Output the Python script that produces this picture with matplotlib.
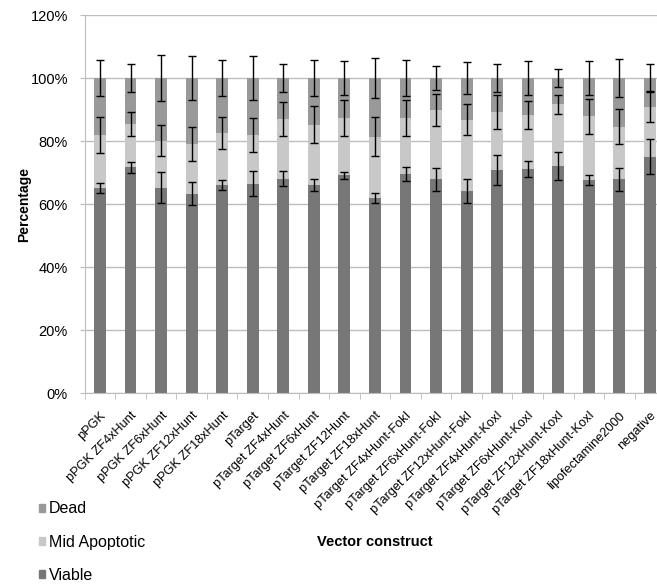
import numpy as np
import matplotlib.pyplot as plt
from matplotlib.patches import Patch

plt.rcParams['font.family'] = ['Liberation Sans', 'DejaVu Sans']

constructs = ["pPGK", "pPGK ZF4xHunt", "pPGK ZF6xHunt", "pPGK ZF12xHunt", "pPGK ZF18xHunt",
              "pTarget", "pTarget ZF4xHunt", "pTarget ZF6xHunt", "pTarget ZF12Hunt",
              "pTarget ZF18xHunt", "pTarget ZF4xHunt-FokI", "pTarget ZF6xHunt-FokI",
              "pTarget ZF12xHunt-FokI", "pTarget ZF4xHunt-KoxI", "pTarget ZF6xHunt-KoxI",
              "pTarget ZF12xHunt-KoxI", "pTarget ZF18xHunt-KoxI", "lipofectamine2000", "negative"]

# percentages of cells in each state
viable = [65.2, 71.6, 65.2, 63.3, 65.9, 66.5, 68.1, 66.1, 69.1, 62.0,
          69.5, 67.8, 64.1, 70.7, 71.1, 72.1, 67.6, 67.8, 75.0]
mid_apoptotic = [16.7, 13.8, 14.9, 15.7, 16.7, 15.4, 18.8, 19.1, 18.2, 19.4,
                 17.8, 22.0, 22.7, 18.5, 17.2, 19.6, 20.2, 16.7, 15.9]
dead = [18.1, 14.6, 19.9, 21.0, 17.4, 18.1, 13.1, 14.8, 12.7, 18.6,
        12.7, 10.2, 13.2, 10.8, 11.7, 8.3, 12.2, 15.5, 9.1]

viable_err = [1.6, 1.7, 5.0, 3.6, 1.6, 4.0, 2.4, 1.9, 1.1, 1.6,
              2.3, 3.7, 3.8, 4.8, 2.5, 4.5, 1.6, 3.6, 5.6]
mid_err = [5.7, 3.9, 5.0, 5.3, 5.0, 5.3, 5.4, 5.9, 5.8, 6.1,
           5.8, 5.0, 5.0, 5.4, 4.4, 3.0, 5.6, 5.6, 5.0]
dead_err = [5.7, 4.4, 7.2, 7.1, 5.7, 7.0, 4.4, 5.7, 5.3, 6.4,
            5.6, 3.7, 5.1, 4.3, 5.5, 2.8, 5.5, 6.1, 4.5]

c_viable = '#777777'
c_mid = '#c8c8c8'
c_dead = '#999999'
grid_c = '#bdbdbd'

x = np.arange(len(constructs))
v = np.array(viable)
m = np.array(mid_apoptotic)
d = np.array(dead)

fig = plt.figure(figsize=(6.57, 5.84), dpi=100)
ax = fig.add_axes([0.1289, 0.327, 0.8836, 0.6473])

w = 0.39
ax.bar(x, v, w, color=c_viable, zorder=2)
ax.bar(x, m, w, bottom=v, color=c_mid, zorder=2)
ax.bar(x, d, w, bottom=v + m, color=c_dead, zorder=2)

ebkw = dict(fmt='none', ecolor='black', elinewidth=1.0, capsize=2.6, capthick=1.0, zorder=3)
ax.errorbar(x, v, yerr=viable_err, **ebkw)
ax.errorbar(x, v + m, yerr=mid_err, **ebkw)
ax.errorbar(x, v + m + d, yerr=dead_err, **ebkw)

ax.set_xlim(-0.5, len(constructs) - 0.5)
ax.set_ylim(0, 120)
ax.set_yticks(np.arange(0, 121, 20))
ax.set_yticklabels([f'{t}%' for t in range(0, 121, 20)], fontsize=10.5)
ax.yaxis.grid(True, color=grid_c, linewidth=1.0, zorder=0)
ax.set_axisbelow(True)

ax.set_xticks(x)
ax.set_xticklabels(constructs, rotation=45, ha='right', rotation_mode='anchor', fontsize=9.2)
ax.set_xticks(np.arange(-0.5, len(constructs), 1), minor=True)
ax.tick_params(axis='x', which='major', length=0, pad=12)
ax.tick_params(axis='x', which='minor', length=4, color=grid_c, direction='out')
ax.tick_params(axis='y', length=3.6, color=grid_c, direction='out', pad=8.5)

for s in ['top', 'right']:
    ax.spines[s].set_visible(False)
ax.spines['left'].set_color(grid_c)
ax.spines['bottom'].set_color(grid_c)

ax.set_ylabel('Percentage', fontsize=10, fontweight='bold')
ax.yaxis.set_label_coords(-0.093, 0.5)
fig.text(375 / 657, 1 - 542 / 584, 'Vector construct', ha='center', va='center',
         fontsize=10.5, fontweight='bold')

handles = [Patch(color=c_dead), Patch(color=c_mid), Patch(color=c_viable)]
fig.legend(handles, ['Dead', 'Mid Apoptotic', 'Viable'], loc='lower left',
           bbox_to_anchor=(0.037, -0.023), frameon=False, fontsize=11.5,
           handlelength=0.4, handleheight=0.4, handletextpad=0.25, labelspacing=1.15)

fig.savefig('out.png', dpi=100)
